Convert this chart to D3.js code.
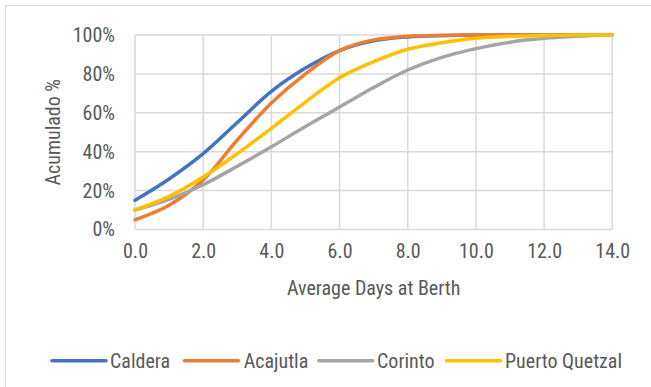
<!DOCTYPE html>
<html>
<head>
<meta charset="utf-8">
<script src="https://cdn.jsdelivr.net/npm/d3@7"></script>
<style>
  html, body { margin: 0; padding: 0; background: #fff; }
  svg { display: block; }
  text { font-family: "Liberation Sans Narrow", "Arial Narrow", "Roboto Condensed", sans-serif; fill: #595959; }
</style>
</head>
<body>
<svg id="chart" width="651" height="387"></svg>
<script>
// Cumulative share of vessel calls by average days at berth
const days = [0, 1, 2, 3, 4, 5, 6, 7, 8, 9, 10, 11, 12, 13, 14];
const caldera       = [15, 26, 39, 55, 71, 83, 92, 97, 99, 99.7, 100, 100, 100, 100, 100];
const acajutla      = [5, 12.5, 25.5, 46, 65, 80, 92, 97.5, 99.3, 99.8, 100, 100, 100, 100, 100];
const corinto       = [10, 15.5, 23, 32.5, 42.5, 53, 63, 73, 82, 88.5, 93, 96.3, 98.3, 99.4, 100];
const puertoQuetzal = [10, 17, 27, 39, 52, 65.5, 78, 86.3, 92.7, 96, 98.3, 99.3, 99.8, 100, 100];

const seriesNames  = ["Caldera", "Acajutla", "Corinto", "Puerto Quetzal"];
const seriesValues = [caldera, acajutla, corinto, puertoQuetzal];
const seriesColors = ["#4472C4", "#ED7D31", "#A5A5A5", "#FFC000"];

const xTicks = [0, 2, 4, 6, 8, 10, 12, 14];
const yTicks = [0, 20, 40, 60, 80, 100];

const svg = d3.select("#chart");
const plot = { left: 135, right: 612.3, top: 35, bottom: 229.5 };

const x = d3.scaleLinear().domain([0, 14]).range([plot.left, plot.right]);
const y = d3.scaleLinear().domain([0, 100]).range([plot.bottom, plot.top]);

// chart frame (top and left edges fall inside the canvas)
svg.append("path")
  .attr("d", "M5.5,387 V5.5 H651")
  .attr("fill", "none")
  .attr("stroke", "#d9d9d9")
  .attr("stroke-width", 1.2);

const grid = svg.append("g");
grid.selectAll("line.h").data(yTicks).join("line")
  .attr("x1", plot.left).attr("x2", plot.right)
  .attr("y1", d => y(d)).attr("y2", d => y(d))
  .attr("stroke", "#d9d9d9").attr("stroke-width", 1.5);
grid.selectAll("line.v").data(xTicks).join("line")
  .attr("x1", d => x(d)).attr("x2", d => x(d))
  .attr("y1", plot.top).attr("y2", plot.bottom)
  .attr("stroke", "#d9d9d9").attr("stroke-width", 1.5);

// y axis labels
const yAxis = d3.axisLeft(y).tickValues(yTicks).tickFormat(d => d + "%").tickSize(0).tickPadding(20);
svg.append("g").attr("transform", `translate(${plot.left},0)`).call(yAxis)
  .call(g => g.select(".domain").remove())
  .call(g => g.selectAll("text").attr("font-size", 20).attr("font-family", null).attr("fill", "#595959"));

// x axis labels
const xAxis = d3.axisBottom(x).tickValues(xTicks).tickFormat(d3.format(".1f")).tickSize(0).tickPadding(14);
svg.append("g").attr("transform", `translate(0,${plot.bottom})`).call(xAxis)
  .call(g => g.select(".domain").remove())
  .call(g => g.selectAll("text").attr("font-size", 20).attr("font-family", null).attr("fill", "#595959"));

// axis titles
svg.append("text")
  .attr("x", x(7)).attr("y", 295)
  .attr("text-anchor", "middle").attr("font-size", 20)
  .text("Average Days at Berth");
svg.append("text")
  .attr("transform", `translate(52.5,${(plot.top + plot.bottom) / 2}) rotate(-90)`)
  .attr("text-anchor", "middle").attr("dominant-baseline", "central").attr("font-size", 20)
  .text("Acumulado %");

// smoothed series lines
const line = d3.line()
  .x((d, i) => x(days[i]))
  .y(d => y(d))
  .curve(d3.curveCatmullRom.alpha(0.5));

svg.append("g").selectAll("path").data(seriesValues).join("path")
  .attr("d", d => line(d))
  .attr("fill", "none")
  .attr("stroke", (d, i) => seriesColors[i])
  .attr("stroke-width", 3.5)
  .attr("stroke-linecap", "round")
  .attr("stroke-linejoin", "round");

// legend
const legendItems = [
  { lineX: 52, textX: 110 },
  { lineX: 184.5, textX: 243.7 },
  { lineX: 318.7, textX: 377 },
  { lineX: 446.5, textX: 505 }
];
const legend = svg.append("g");
seriesNames.forEach((name, i) => {
  const it = legendItems[i];
  legend.append("line")
    .attr("x1", it.lineX).attr("x2", it.lineX + 54)
    .attr("y1", 360.8).attr("y2", 360.8)
    .attr("stroke", seriesColors[i]).attr("stroke-width", 3.5)
    .attr("stroke-linecap", "round");
  legend.append("text")
    .attr("x", it.textX).attr("y", 368)
    .attr("font-size", 20)
    .text(name);
});
</script>
</body>
</html>
